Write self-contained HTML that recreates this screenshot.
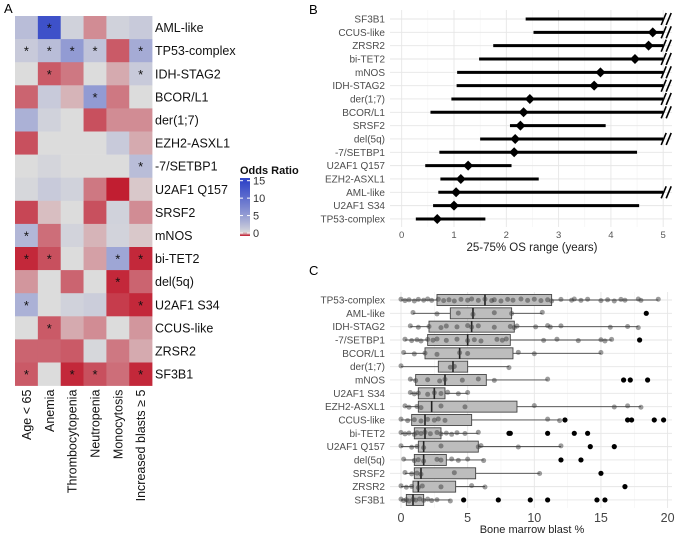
<!DOCTYPE html>
<html><head><meta charset="utf-8"><style>
body{margin:0;background:#fff;}
svg{display:block;font-family:"Liberation Sans",sans-serif;}
</style></head><body>
<svg id="fig" width="678" height="535" viewBox="0 0 678 535" xmlns="http://www.w3.org/2000/svg">
<text x="4" y="13" font-size="13">A</text>
<text x="309" y="14" font-size="13">B</text>
<text x="309" y="275" font-size="13">C</text>
<g id="heat"></g>
<g id="legend"></g>
<g id="osplot"></g>
<g id="boxplot"></g>
</svg>
<script>
const NS="http://www.w3.org/2000/svg";
function mk(parent,tag,attrs,text){const e=document.createElementNS(NS,tag);for(const k in attrs)e.setAttribute(k,attrs[k]);if(text!==undefined)e.textContent=text;parent.appendChild(e);return e;}

// ---------- Panel A data ----------
const heatRows=["AML-like","TP53-complex","IDH-STAG2","BCOR/L1","der(1;7)","EZH2-ASXL1","-7/SETBP1","U2AF1 Q157","SRSF2","mNOS","bi-TET2","del(5q)","U2AF1 S34","CCUS-like","ZRSR2","SF3B1"];
const heatCols=["Age < 65","Anemia","Thrombocytopenia","Neutropenia","Monocytosis","Increased blasts ≥ 5"];
const oddsRatios=[
[3,14,1.5,0.6,1.5,2],
[2,3,6,2.5,0.35,4.5],
[1,0.35,0.5,1,0.75,2],
[0.4,2,0.8,6,0.5,1],
[4,1.5,1,0.3,0.6,0.6],
[0.3,1,1,1,2,0.75],
[1,1.3,1,1,1,3],
[1.2,2,1.5,0.5,0.05,0.9],
[0.25,0.85,1,0.3,1.5,0.6],
[3.5,0.45,1.4,0.8,1.4,0.9],
[0.1,0.3,1,0.7,5,0.1],
[0.65,1,0.4,1,0.1,0.4],
[4,1,1.5,1.8,0.2,0.1],
[1,0.35,0.75,0.6,1,0.65],
[0.4,0.4,0.35,1.2,0.5,0.75],
[0.35,1,0.1,0.3,0.45,0.1]];
const significant=[
[0,1,0,0,0,0],[1,1,1,1,0,1],[0,1,0,0,0,1],[0,0,0,1,0,0],[0,0,0,0,0,0],[0,0,0,0,0,0],
[0,0,0,0,0,1],[0,0,0,0,0,0],[0,0,0,0,0,0],[1,0,0,0,0,0],[1,1,0,0,1,1],[0,0,0,0,1,0],
[1,0,0,0,0,1],[0,1,0,0,0,0],[0,0,0,0,0,0],[1,0,1,1,0,1]];
const legendTicks=[0,5,10,15];

function orColor(v){
  const g=[220,220,220],r=[192,20,40],b=[52,72,200];
  let c;
  if(v<1){const t=Math.max(0,v);c=r.map((x,i)=>x+(g[i]-x)*t);}
  else{const t=Math.min(1,(v-1)/14);const tt=Math.pow(t,0.8);c=g.map((x,i)=>x+(b[i]-x)*tt);}
  return `rgb(${c.map(Math.round).join(",")})`;
}
(function(){
  const G=document.getElementById("heat");
  const x0=15,y0=16,cw=22.85,ch=23.1;
  heatRows.forEach((rn,i)=>{
    heatCols.forEach((cn,j)=>{
      const r=mk(G,"rect",{x:x0+j*cw,y:y0+i*ch,width:cw+0.3,height:ch+0.3,fill:orColor(oddsRatios[i][j])});
      
      
      if(significant[i][j]){
        const s=mk(G,"text",{x:x0+j*cw+cw/2,y:y0+i*ch+ch/2+5,"font-size":"13","text-anchor":"middle",fill:"#111"},"*");
        
        
      }
    });
    const t=mk(G,"text",{x:155,y:y0+i*ch+ch/2+4.5,"font-size":"12.5",fill:"#111"},rn);
    
    
  });
  heatCols.forEach((cn,j)=>{
    const cx=x0+j*cw+cw/2+4.5;
    const t=mk(G,"text",{x:0,y:0,"font-size":"12.5","text-anchor":"end",fill:"#111",transform:`translate(${cx},${y0+16*ch+4}) rotate(-90)`},cn);
    
    
  });
  // legend
  const L=document.getElementById("legend");
  mk(L,"text",{x:240,y:174,"font-size":"11","font-weight":"bold",fill:"#111"},"Odds Ratio");
  const defs=mk(L,"defs",{});
  const grad=mk(defs,"linearGradient",{id:"orgrad",x1:0,y1:1,x2:0,y2:0});
  const yTop=178,yBot=236,vMax=16.2;
  for(let k=0;k<=40;k++){const v=vMax*k/40;mk(grad,"stop",{offset:k/40,"stop-color":orColor(v)});}
  const bar=mk(L,"rect",{x:240,y:yTop,width:10,height:yBot-yTop,fill:"url(#orgrad)"});
  
  
  const ly=v=>yBot-3+(-(yBot-3-180.7))*(v/15);
  legendTicks.forEach(v=>{
    mk(L,"line",{x1:240,x2:243,y1:ly(v),y2:ly(v),stroke:"#fff","stroke-width":1});
    mk(L,"line",{x1:247,x2:250,y1:ly(v),y2:ly(v),stroke:"#fff","stroke-width":1});
    const t=mk(L,"text",{x:253,y:ly(v)+4,"font-size":"11",fill:"#333"},String(v));
    
    
  });
})();

// ---------- Panel B data ----------
const osCats=["SF3B1","CCUS-like","ZRSR2","bi-TET2","mNOS","IDH-STAG2","der(1;7)","BCOR/L1","SRSF2","del(5q)","-7/SETBP1","U2AF1 Q157","EZH2-ASXL1","AML-like","U2AF1 S34","TP53-complex"];
const osLow=[2.37,2.52,1.75,1.48,1.06,1.05,0.95,0.55,2.07,1.5,0.72,0.45,0.74,0.7,0.6,0.27];
const osMedian=[null,4.8,4.72,4.46,3.8,3.68,2.45,2.33,2.27,2.17,2.15,1.27,1.13,1.04,1.0,0.68];
const osHigh=[6,6,6,6,6,6,6,6,3.9,6,4.5,2.1,2.62,6,4.54,1.6];
const osTicks=[0,1,2,3,4,5];
(function(){
  const G=document.getElementById("osplot");
  const X=v=>401.7+v*52.3;
  const Y=i=>19+i*13.33;
  const top=10,bot=227,left=390,right=672;
  for(let v=0.5;v<5.5;v+=1) mk(G,"line",{x1:X(v),x2:X(v),y1:top,y2:bot,stroke:"#f3f3f3","stroke-width":0.6});
  osTicks.forEach(v=>{
    mk(G,"line",{x1:X(v),x2:X(v),y1:top,y2:bot,stroke:"#e6e6e6","stroke-width":0.9});
    const t=mk(G,"text",{x:X(v),y:238,"font-size":"9.5","text-anchor":"middle",fill:"#555"},String(v));
    
    
  });
  osCats.forEach((c,i)=>{
    mk(G,"line",{x1:left,x2:right,y1:Y(i),y2:Y(i),stroke:"#e6e6e6","stroke-width":0.9});
    const t=mk(G,"text",{x:385,y:Y(i)+3.5,"font-size":"10","text-anchor":"end",fill:"#4d4d4d"},c);
    
    
  });
  const xt=mk(G,"text",{x:532,y:251,"font-size":"11.5","text-anchor":"middle",fill:"#222"},"25-75% OS range (years)");
  
  
  osCats.forEach((c,i)=>{
    const hi=Math.min(osHigh[i],5);
    const ln=mk(G,"line",{x1:X(osLow[i]),x2:X(hi),y1:Y(i),y2:Y(i),stroke:"#000","stroke-width":3});
    
    
    if(osHigh[i]>5){
      [0,5].forEach(d=>{
        const s=mk(G,"line",{x1:X(5)-2+d,y1:Y(i)+6,x2:X(5)+3+d,y2:Y(i)-6,stroke:"#000","stroke-width":1.6});
        
        
      });
    }
    if(osMedian[i]!==null){
      const cx=X(osMedian[i]),cy=Y(i);
      const d=mk(G,"polygon",{points:`${cx},${cy-5} ${cx+5},${cy} ${cx},${cy+5} ${cx-5},${cy}`,fill:"#000"});
      
      
    }
  });
})();

// ---------- Panel C data ----------
const blastCats=["TP53-complex","AML-like","IDH-STAG2","-7/SETBP1","BCOR/L1","der(1;7)","mNOS","U2AF1 S34","EZH2-ASXL1","CCUS-like","bi-TET2","U2AF1 Q157","del(5q)","SRSF2","ZRSR2","SF3B1"];
const blastQ1=[2.7,3.7,2.1,2.0,1.8,2.8,1.1,1.3,1.3,0.8,1.0,1.3,1.0,1.0,0.9,0.4];
const blastMedian=[6.3,5.4,5.3,5.0,4.4,3.9,3.3,2.5,2.3,1.8,1.8,1.7,1.7,1.5,1.3,0.9];
const blastQ3=[11.3,8.3,8.5,8.2,8.4,5.0,6.4,3.3,8.7,5.3,3.0,5.8,3.4,5.6,4.1,1.7];
const blastWhiskLo=[0,0.9,0.7,0.3,0.2,0,0.7,0.7,0.3,0,0,0,0.2,0.3,0,0];
const blastWhiskHi=[19.3,10.6,17.8,15.8,15.0,8.1,11.0,5.0,18.0,11.9,5.8,12.0,6.2,10.4,6.3,3.7];
const blastOutliers=[[],[18.4],[],[17.9],[],[],[16.7,17.2,18.5],[],[],[12.3,17.0,17.3,19.0,19.7],[8.1,8.2,11.0,13.0,14.0],[14.2,16.0],[12.0,13.5],[15.0],[16.8],[4.7,7.3,9.7,11.0,14.7,15.3]];
const blastPoints=[
[0,0.3,0.6,1,1.3,1.7,2,2.3,2.8,3.2,3.6,4,4.5,5,5.3,5.8,6.3,6.8,7,7.5,8,8.4,9,9.5,10,10.5,11,11.3,12,12.8,13,13.5,14,15,15.5,16,16.5,16.8,17.8,18,19.3],
[0.9,2.7,4.3,5.4,7,8.3,10.6],
[0.7,1.3,2.1,3,3.4,4.2,5,5.3,5.8,7,8.2,8.5,8.7,10.1,11,11.2,12,15.7,17,17.8],
[0.3,0.8,1.2,1.5,2,2.4,2.7,3.4,4.2,5,5.5,6,7.2,7.6,7.9,10.7,11.7,13.3,15,15.3,15.8],
[0.2,1,1.8,2.7,4.4,5,8.8,10,15],
[0,3.7,4,8.1],
[0.7,1.1,2,2.9,3.3,4.6,5.8,7,11],
[0.7,1,1.3,2,2.5,3,3.5,4.3,5],
[0.3,0.6,1.2,1.5,3,4.8,10,16,17,18],
[0,0.5,1,1.5,2,2.5,2.8,3.3,11,11.9],
[0,0.3,0.6,1,1.2,1.5,1.8,2.2,2.7,3,3.4,3.8,4.2,4.8,5.8],
[0,0.8,1.2,1.7,3,5.8,6,8.8,12],
[0.2,1,1.3,1.7,2.7,3,3.8,4.3,5,6.2],
[0.3,0.8,1.2,1.5,4,10.4],
[0,0.4,0.8,1.3,1.6,3,5.3,6.3],
[0,0.2,0.4,0.6,0.9,1.1,1.4,1.7,2,2.3,2.7,3.7]];
const blastTicks=[0,5,10,15,20];
(function(){
  const G=document.getElementById("boxplot");
  const X=v=>401+v*13.33;
  const Y=i=>300+i*13.33;
  const top=292,bot=508,left=390,right=672;
  for(let v=2.5;v<22;v+=5) mk(G,"line",{x1:X(v),x2:X(v),y1:top,y2:bot,stroke:"#f3f3f3","stroke-width":0.6});
  blastTicks.forEach(v=>{
    mk(G,"line",{x1:X(v),x2:X(v),y1:top,y2:bot,stroke:"#e6e6e6","stroke-width":0.9});
    const t=mk(G,"text",{x:X(v),y:522,"font-size":"12.5","text-anchor":"middle",fill:"#444"},String(v));
    
    
  });
  blastCats.forEach((c,i)=>{
    mk(G,"line",{x1:left,x2:right,y1:Y(i),y2:Y(i),stroke:"#e6e6e6","stroke-width":0.9});
    const t=mk(G,"text",{x:385,y:Y(i)+3.5,"font-size":"10","text-anchor":"end",fill:"#4d4d4d"},c);
    
    
  });
  const xt=mk(G,"text",{x:532,y:533,"font-size":"11","text-anchor":"middle",fill:"#222"},"Bone marrow blast %");
  
  
  const jit=[-2,1.5,-0.5,2.5,-1.5,0.5,-2.5,1];
  blastCats.forEach((c,i)=>{
    const y=Y(i);
    const w=mk(G,"line",{x1:X(blastWhiskLo[i]),x2:X(blastWhiskHi[i]),y1:y,y2:y,stroke:"#444","stroke-width":0.9});
    
    
    const b=mk(G,"rect",{x:X(blastQ1[i]),y:y-5.5,width:X(blastQ3[i])-X(blastQ1[i]),height:11,fill:"#bdbdbd",stroke:"#444","stroke-width":0.9});
    
    
    const m=mk(G,"line",{x1:X(blastMedian[i]),x2:X(blastMedian[i]),y1:y-5.5,y2:y+5.5,stroke:"#222","stroke-width":1.6});
    
    
    blastOutliers[i].forEach(v=>{
      const o=mk(G,"circle",{cx:X(v),cy:y,r:2.6,fill:"#000"});
      
      
    });
    blastPoints[i].forEach((v,k)=>{
      const p=mk(G,"circle",{cx:X(v),cy:y+jit[k%8]*0.4,r:2.5,fill:"rgba(60,60,60,0.5)"});
      
      
    });
  });
})();
</script>
</body></html>
